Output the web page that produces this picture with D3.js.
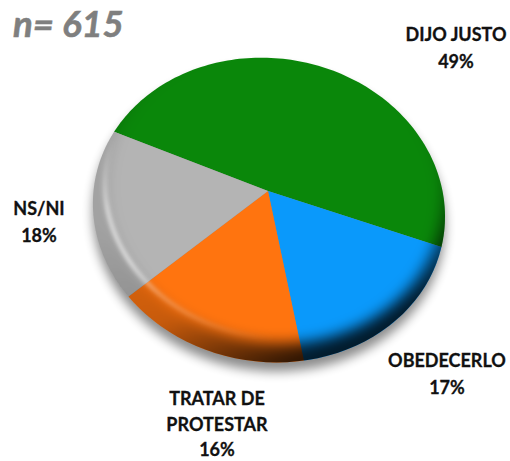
<!DOCTYPE html>
<html><head><meta charset="utf-8"><script src="https://cdn.jsdelivr.net/npm/d3@7"></script>
<style>html,body{margin:0;padding:0;background:#fff}svg{display:block}text{font-family:Lato,"Open Sans",sans-serif;font-weight:700}</style></head>
<body><script>
const categories = ["DIJO JUSTO","OBEDECERLO","TRATAR DE PROTESTAR","NS/NI"];
const values = [49,17,16,18];
const colors = ["#0a870a","#0a99fb","#ff740f","#b4b4b4"];
const labelLines = [["DIJO JUSTO","49%"],["OBEDECERLO","17%"],["TRATAR DE","PROTESTAR","16%"],["NS/NI","18%"]];
const labelPos = [[456,41],[447,367],[217,405],[39,215]];
const title = "n= 615";

const W=510,H=461;
const svg=d3.select("body").append("svg").attr("width",W).attr("height",H);
const defs=svg.append("defs");
const blur=(id,s)=>defs.append("filter").attr("id",id).attr("x","-20%").attr("y","-20%").attr("width","140%").attr("height","140%")
  .append("feGaussianBlur").attr("stdDeviation",s);
blur("b7",5.5);blur("b5",7);blur("b2",2);

const cx=268,cy=191,a=174.5,b=150,k=0.125,shear=0.05;
const proj=(t,r=1)=>{const u=r*Math.sin(t),v=-r*Math.cos(t),w=1-k*v,y=b*v/w;return [cx+a*u/w+shear*y,cy+y];};
const line=d3.line();
const TAU=Math.PI*2;
const arcPts=(s,e)=>d3.range(0,121).map(i=>proj(s+(e-s)*i/120));
const start=294.5/360*TAU;
const pie=d3.pie().sort(null).value(d=>d).startAngle(start).endAngle(start+TAU);
const arcs=pie(values);
const outline=line(arcPts(0,TAU))+"Z";

defs.append("clipPath").attr("id","disc").append("path").attr("d",outline);

svg.append("path").attr("d",outline).attr("fill","#000").attr("opacity",.45)
  .attr("transform","translate(0,9)").attr("filter","url(#b7)");

svg.selectAll("path.slice").data(arcs).join("path").attr("class","slice")
  .attr("fill",(d,i)=>colors[i])
  .attr("d",d=>line([[cx,cy],...arcPts(d.startAngle,d.endAngle)])+"Z");

const ring=(x,y,rx,ry)=>d3.range(0,121).map(i=>{const t=i/120*TAU,dy=-ry*Math.cos(t);return [x+rx*Math.sin(t)+shear*dy,y+dy];});
const g=svg.append("g").attr("clip-path","url(#disc)");
const grad=defs.append("linearGradient").attr("id","bev").attr("gradientUnits","userSpaceOnUse")
  .attr("x1",200).attr("y1",170).attr("x2",300).attr("y2",362);
grad.append("stop").attr("offset",0).attr("stop-color","#000").attr("stop-opacity",.1);
grad.append("stop").attr("offset",.55).attr("stop-color","#000").attr("stop-opacity",.22);
grad.append("stop").attr("offset",1).attr("stop-color","#000").attr("stop-opacity",.82);
g.append("path").attr("fill-rule","evenodd").attr("fill","url(#bev)").attr("filter","url(#b5)")
  .attr("d","M-50,-50H600V500H-50Z"+line(ring(275,193,167,150))+"Z");

const hg=defs.append("linearGradient").attr("id","hl").attr("gradientUnits","userSpaceOnUse")
  .attr("x1",100).attr("y1",150).attr("x2",260).attr("y2",350);
[[0,0],[.2,.7],[.42,.75],[.6,.3],[1,0]].forEach(([o,op])=>hg.append("stop").attr("offset",o).attr("stop-color","#fff").attr("stop-opacity",op));
g.append("path").attr("d",line(ring(275,190,170,148))+"Z")
  .attr("fill","none").attr("stroke","url(#hl)").attr("stroke-width",3.5).attr("filter","url(#b2)");

labelLines.forEach((ls,i)=>{
  const t=svg.append("text").attr("text-anchor","middle").attr("fill","#111").attr("font-size",18)
    .attr("stroke","#111").attr("stroke-width",.3);
  ls.forEach((l,j)=>t.append("tspan").attr("x",labelPos[i][0]).attr("y",labelPos[i][1]+j*(i===2?25.5:27)).text(l));
});
svg.append("text").attr("x",13).attr("y",37).attr("font-size",36.5).attr("font-style","italic").attr("fill","#7f7f7f")
  .attr("stroke","#7f7f7f").attr("stroke-width",.6).text(title);
</script></body></html>
